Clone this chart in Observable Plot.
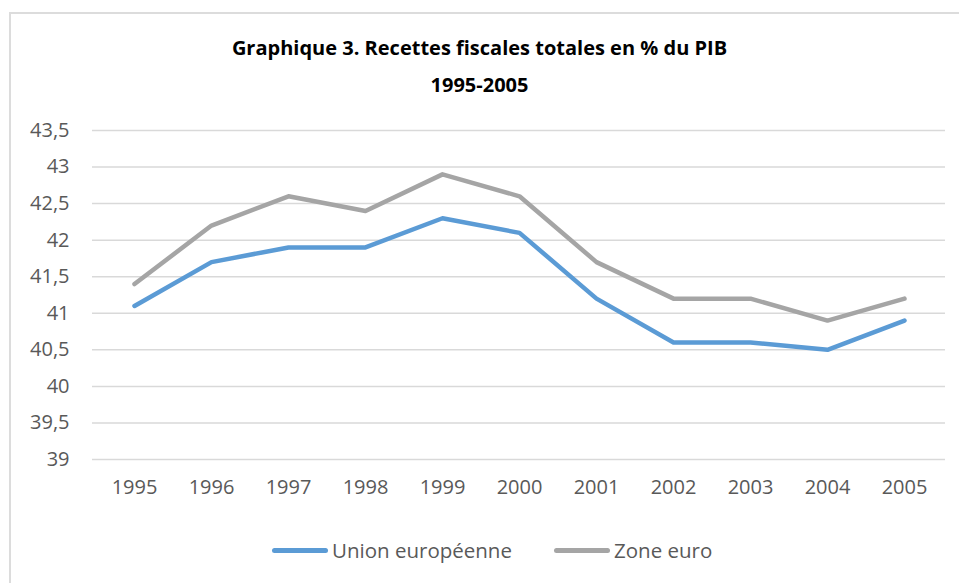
<!DOCTYPE html>
<html>
<head>
<meta charset="utf-8">
<script src="https://cdn.jsdelivr.net/npm/d3@7"></script>
<script src="https://cdn.jsdelivr.net/npm/@observablehq/plot@0.6"></script>
<style>
  body { margin: 0; background: #fff; }
  #wrap { position: relative; width: 959px; height: 583px; overflow: hidden; font-family: "Open Sans", sans-serif; }
  #frame { position: absolute; left: 9px; top: 12px; width: 970px; height: 600px; border: 2px solid #dcdcdc; box-sizing: border-box; }
  #title { position: absolute; left: 0; width: 959px; top: 29px; text-align: center; font-weight: bold; font-size: 20px; line-height: 37px; color: #000; }
  #chart { position: absolute; left: 0; top: 0; }
  .leg { position: absolute; top: 536px; font-size: 20.5px; color: #595959; display: flex; align-items: center; }
  .leg span.sw { display: inline-block; width: 56px; height: 5px; border-radius: 3px; margin-right: 4px; }
</style>
</head>
<body>
<div id="wrap">
  <div id="frame"></div>
  <div id="chart"></div>
  <div id="title">Graphique 3. Recettes fiscales totales en % du PIB<br>1995-2005</div>
  <div class="leg" style="left:272px"><span class="sw" style="background:#5B9BD5"></span>Union européenne</div>
  <div class="leg" style="left:554px"><span class="sw" style="background:#A5A5A5"></span>Zone euro</div>
</div>
<script>
const years = ["1995","1996","1997","1998","1999","2000","2001","2002","2003","2004","2005"];
const unionEuropeenne = [41.1, 41.7, 41.9, 41.9, 42.3, 42.1, 41.2, 40.6, 40.6, 40.5, 40.9];
const zoneEuro = [41.4, 42.2, 42.6, 42.4, 42.9, 42.6, 41.7, 41.2, 41.2, 40.9, 41.2];
const yTicks = [39, 39.5, 40, 40.5, 41, 41.5, 42, 42.5, 43, 43.5];
const seriesNames = ["Union européenne", "Zone euro"];
const seriesColors = ["#5B9BD5", "#A5A5A5"];

const data = [
  ...years.map((y, i) => ({year: y, value: unionEuropeenne[i], series: seriesNames[0]})),
  ...years.map((y, i) => ({year: y, value: zoneEuro[i], series: seriesNames[1]}))
];

const fmt = v => String(v).replace(".", ",");

const plot = Plot.plot({
  width: 959,
  height: 583,
  marginTop: 130,
  marginBottom: 124,
  marginLeft: 92,
  marginRight: 14,
  style: {fontFamily: "'Open Sans', sans-serif", fontSize: "20px", color: "#595959", background: "transparent", overflow: "visible"},
  x: {type: "point", domain: years, padding: 0.5},
  y: {domain: [39, 43.5]},
  color: {domain: seriesNames, range: seriesColors},
  marks: [
    Plot.ruleY(yTicks, {stroke: "#d9d9d9", strokeWidth: 1.5}),
    Plot.axisY({ticks: yTicks, tickFormat: fmt, tickSize: 0, tickPadding: 23, label: null, fill: "#595959", fontSize: 20}),
    Plot.axisX({tickSize: 0, tickPadding: 20, label: null, fill: "#595959", fontSize: 20}),
    Plot.line(data, {x: "year", y: "value", z: "series", stroke: "series", strokeWidth: 4.5, strokeLinecap: "round", strokeLinejoin: "round"})
  ]
});
document.getElementById("chart").appendChild(plot);
</script>
</body>
</html>
